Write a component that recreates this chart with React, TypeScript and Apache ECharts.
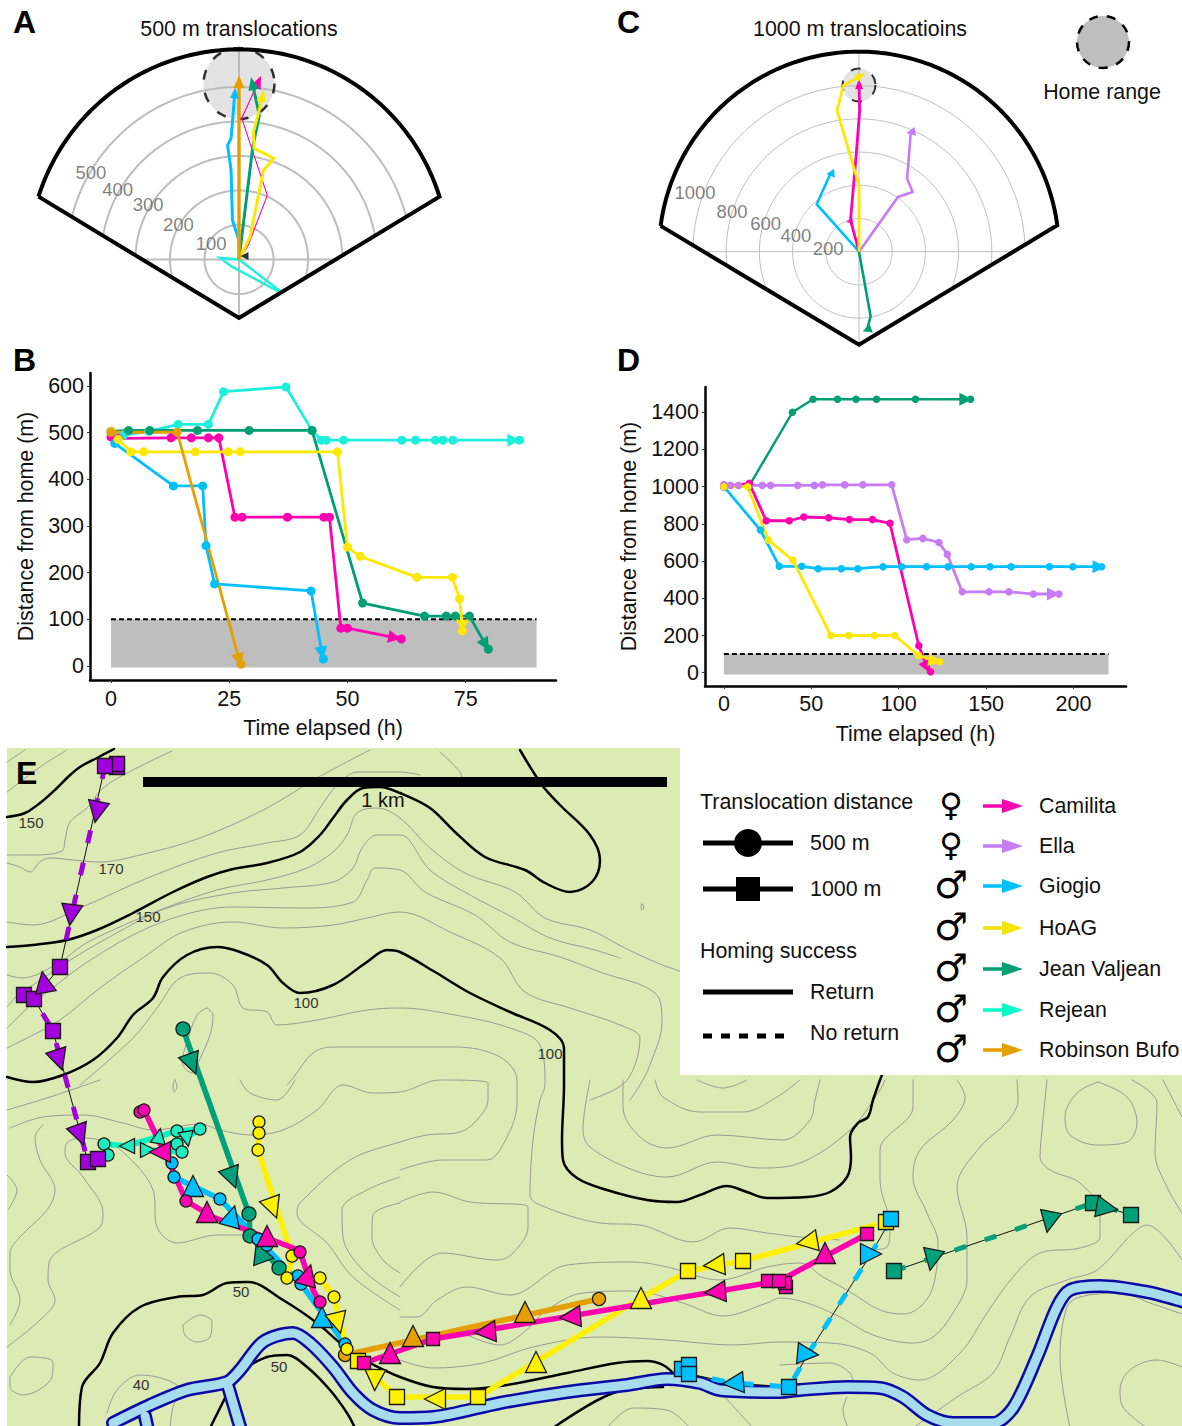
import React, { useEffect, useRef } from "react";
import * as echarts from "echarts";

const FONT = "Liberation Sans";
const C = { cam: "#FF00B0", ella: "#C77CF5", gio: "#00BFFF", hoag: "#FFE800", jean: "#009E73", rej: "#1CF0DC", rob: "#E69F00" };
const M = { ella: "#A100DC", jean: "#00A07A", rej: "#1DEBC0", rejLine: "#00F5C4" };

type P = number[];

// ---------- Panel A tracks: metres east, metres north of the release point
const aGiogio: P[] = [[0, 0], [0, 56], [-19, 114], [-23, 259], [-33, 331], [-23, 351], [-12, 483]];
const aRobinson: P[] = [[0, 0], [0, 515]];
const aJean: P[] = [[0, 0], [40, 327], [59, 418], [39, 510]];
const aCamilita: P[] = [[0, 0], [27, 42], [82, 186], [8, 409], [56, 515]];
const aHoag: P[] = [[0, 0], [32, 66], [71, 259], [101, 293], [44, 322], [42, 370], [56, 423], [68, 476]];
const aRejean: P[] = [[0, 0], [-55, 5], [-22, -20], [113, -92], [118, -90], [0, 0]];
const aSideMark: P[] = [[16, 10, 90]];
const aRingValues = [100, 200, 300, 400, 500];
const aRingLabels = [[93, 150, "100"], [203, 150, "200"], [307, 149, "300"], [406, 150, "400"], [498, 149.5, "500"]];

// ---------- Panel C tracks
const cCamilita: P[] = [[0, 0], [-51, 190], [-18, 570], [4, 850], [0, 1010]];
const cHoag: P[] = [[0, 0], [0, 400], [-132, 850], [-95, 1000], [11, 1060]];
const cElla: P[] = [[0, 0], [235, 330], [323, 360], [290, 440], [312, 720]];
const cGiogio: P[] = [[0, 0], [-255, 286], [-172, 470]];
const cJean: P[] = [[0, 0], [70, -390], [48, -470]];
const cSideMark: P[] = [[-58, 182, 100]];
const cRingValues = [200, 400, 600, 800, 1000];
const cRingLabels = [[187, 174.5, "200"], [392, 165.8, "400"], [587, 163.2, "600"], [802, 162.5, "800"], [1050, 160.2, "1000"]];

// ---------- Panel B: hours, metres
const bRejean: P[] = [[0, 503], [2.7, 495], [8, 503], [14.2, 518], [20.6, 518], [23.8, 588], [37, 598], [42.5, 505], [44.5, 484], [45.5, 484], [49.2, 484], [61.5, 484], [64.4, 484], [68.6, 484], [70.2, 484], [72.3, 484], [86.4, 484]];
const bCamilita: P[] = [[0, 491], [1.5, 488], [12.7, 489], [17, 489], [20.6, 489], [22.8, 489], [26.2, 319], [27.7, 319], [37.3, 319], [45, 319], [46.2, 319], [48.6, 81], [50, 81], [61.4, 58]];
const bGiogio: P[] = [[0, 502], [0.8, 477], [13.2, 386], [19.4, 386], [20.1, 258], [21.9, 176], [42.3, 161], [44.9, 15]];
const bJean: P[] = [[0, 503], [3.7, 505], [8.2, 505], [18.3, 505], [29.2, 505], [42.5, 505], [53.2, 135], [66.3, 107], [70.9, 107], [72.8, 107], [75.8, 107], [79.8, 36]];
const bRobinson: P[] = [[0, 501], [14, 501], [27.5, 4]];
const bHoag: P[] = [[0, 503], [1.5, 486], [4.2, 459], [6.9, 459], [17.8, 459], [24.8, 459], [27.3, 459], [47.9, 459], [50, 255], [52.7, 235], [64.7, 190], [72.2, 190], [73.7, 144], [74.3, 75]];
const bXTicks = [0, 25, 50, 75];
const bYTicks = [0, 100, 200, 300, 400, 500, 600];

// ---------- Panel D
const dJean: P[] = [[0, 1000], [14.2, 1000], [39.2, 1400], [51, 1470], [65, 1470], [75.6, 1470], [87.3, 1470], [109.6, 1470], [141.1, 1470]];
const dElla: P[] = [[0, 1012], [3.8, 1007], [8.4, 1007], [14.6, 1007], [22, 1007], [26.7, 1007], [42.2, 1007], [51.8, 1007], [56.4, 1010], [69.1, 1010], [79.5, 1010], [96, 1010], [104.6, 715], [113.8, 722], [123, 700], [127.8, 636], [136.3, 435], [151.6, 435], [163, 435], [177, 423], [191.6, 423]];
const dGiogio: P[] = [[0, 1000], [20.9, 767], [31.7, 572], [44.5, 572], [53.9, 559], [67.2, 559], [76.6, 559], [91, 570], [101.7, 570], [115.9, 570], [128.2, 570], [141.5, 570], [152.2, 570], [164.3, 570], [186.2, 570], [199.6, 570], [216, 570]];
const dCamilita: P[] = [[0, 1000], [14.6, 1018], [24.2, 817], [37.4, 817], [45.7, 837], [59.9, 833], [71.8, 823], [85, 823], [95, 803], [111.5, 145], [118.2, 5]];
const dHoag: P[] = [[0, 1000], [13.6, 1000], [25.5, 713], [39.5, 604], [61.2, 200], [71.4, 200], [86, 200], [97.7, 200], [111.3, 93], [123.4, 59]];
const dXTicks = [0, 50, 100, 150, 200];
const dYTicks = [0, 200, 400, 600, 800, 1000, 1200, 1400];

// ---------- Panel E map (map axes run in the picture's own units)
const thickContours: P[][] = [
  [[7, 817], [25, 813], [40, 803], [57, 788], [68, 777], [80, 767], [97, 758], [114, 749]],
  [[7, 947], [33, 945], [67, 940], [97, 930], [133, 913], [173, 892], [207, 877], [233, 869], [267, 863], [300, 852], [320, 835], [333, 818], [347, 800], [363, 788], [380, 787], [400, 793], [430, 808], [455, 832], [485, 857], [525, 870], [545, 883], [570, 892], [592, 882], [600, 860], [590, 835], [560, 805], [542, 785], [520, 750]],
  [[7, 1077], [33, 1082], [63, 1075], [93, 1060], [117, 1038], [133, 1015], [153, 998], [163, 977], [187, 955], [217, 947], [240, 952], [267, 965], [283, 983], [300, 993], [333, 985], [367, 962], [387, 950], [400, 952], [435, 972], [470, 993], [510, 1012], [550, 1030], [564, 1048], [564, 1085], [562, 1140], [563, 1160], [577, 1178], [607, 1190], [647, 1200], [677, 1202], [700, 1195], [727, 1186], [747, 1192], [767, 1198], [807, 1197], [830, 1192], [847, 1177], [851, 1157], [850, 1137], [858, 1123], [868, 1117], [873, 1100], [880, 1080], [884, 1070]],
  [[79, 1428], [82, 1387], [100, 1363], [113, 1333], [140, 1307], [177, 1297], [203, 1295], [227, 1283], [248, 1282], [283, 1300], [317, 1323], [340, 1343], [353, 1353], [370, 1363], [400, 1377], [433, 1387], [467, 1389], [507, 1385], [567, 1373], [617, 1363], [647, 1361], [663, 1365], [675, 1375]],
  [[247, 1367], [267, 1357], [287, 1355], [307, 1367], [330, 1390], [347, 1413], [355, 1428]],
  [[210, 1428], [225, 1398]],
  [[553, 1428], [613, 1393], [663, 1387]],
];
const thinContours: P[][] = [
  [[7, 762], [25, 750]],
  [[7, 792], [43, 765], [67, 750]],
  [[7, 855], [33, 855], [62, 851], [65, 840], [70, 822], [87, 808], [103, 788], [133, 770], [172, 751]],
  [[7, 863], [20, 867], [30, 872], [40, 862], [50, 858], [73, 860], [100, 862], [140, 855], [200, 838], [267, 808], [317, 778], [370, 750]],
  [[7, 922], [33, 925], [80, 908], [150, 877], [217, 853], [267, 843], [300, 835], [320, 808], [337, 785], [358, 772], [400, 772], [420, 775]],
  [[440, 752], [460, 772], [462, 780]],
  [[7, 975], [22, 978], [60, 962], [83, 945], [113, 930], [160, 910], [217, 890], [267, 880], [307, 868], [333, 852], [347, 835], [357, 813], [377, 808], [400, 818], [430, 848], [465, 873], [515, 892], [545, 918], [590, 930], [625, 948], [655, 962], [682, 972]],
  [[7, 1007], [20, 993], [33, 985], [67, 962], [113, 935], [167, 908], [233, 893], [283, 888], [333, 882], [353, 868], [362, 848], [377, 835], [400, 835], [430, 870], [470, 895], [512, 917], [550, 938], [595, 950], [620, 958]],
  [[7, 1028], [33, 1003], [50, 990], [83, 965], [133, 935], [183, 915], [233, 907], [300, 908], [353, 902], [367, 880], [375, 868], [400, 870], [425, 892], [475, 915], [510, 942], [560, 957], [600, 972], [655, 993], [662, 1022], [650, 1065], [640, 1085], [630, 1100]],
  [[7, 1048], [33, 1035], [60, 1020], [100, 988], [147, 955], [183, 932], [233, 922], [283, 928], [333, 925], [367, 918], [400, 912], [450, 932], [500, 958], [525, 992], [570, 1008], [620, 1025], [640, 1038], [635, 1065], [622, 1085], [590, 1100]],
  [[207, 1008], [213, 1015], [210, 1035], [197, 1065], [192, 1073], [182, 1062], [187, 1042], [197, 1015], [207, 1008]],
  [[80, 1085], [133, 1038], [157, 1008], [180, 978], [210, 973], [233, 985], [243, 1008], [267, 1012], [277, 1025], [317, 1020], [367, 1010], [400, 1008], [455, 1015], [510, 1028], [540, 1045], [545, 1085], [540, 1100], [533, 1140], [530, 1195], [540, 1205], [600, 1223], [640, 1225], [693, 1242], [730, 1228], [767, 1233], [800, 1237], [840, 1240]],
  [[287, 1085], [293, 1078], [313, 1053], [333, 1047], [400, 1047], [455, 1047], [500, 1057], [517, 1080], [517, 1103], [507, 1137], [487, 1160], [443, 1160], [400, 1170]],
  [[7, 1110], [50, 1097], [100, 1080]],
  [[10, 1128], [43, 1117], [83, 1115], [123, 1123], [153, 1130], [200, 1124], [220, 1130], [250, 1135], [283, 1130], [317, 1110], [343, 1085], [373, 1093], [400, 1092], [440, 1080], [488, 1083], [488, 1100], [477, 1120], [460, 1132], [427, 1135], [400, 1142], [350, 1160], [300, 1203], [297, 1213], [327, 1243], [353, 1277], [400, 1310]],
  [[43, 1125], [35, 1137], [40, 1160], [55, 1190], [47, 1210], [20, 1237], [10, 1253], [10, 1270], [20, 1300], [10, 1325]],
  [[243, 1235], [217, 1235], [177, 1243], [157, 1227], [153, 1190], [123, 1152], [100, 1140], [80, 1138], [67, 1143], [65, 1153], [83, 1177], [103, 1213], [100, 1227], [50, 1260], [48, 1280], [55, 1300], [40, 1320], [7, 1347]],
  [[7, 1175], [17, 1190], [8, 1210]],
  [[10, 1377], [30, 1357], [53, 1362], [52, 1377], [23, 1395], [10, 1387], [10, 1377]],
  [[183, 1325], [200, 1315], [212, 1322], [210, 1337], [197, 1342], [185, 1335], [183, 1325]],
  [[107, 1413], [117, 1390], [140, 1375], [167, 1380], [180, 1390], [173, 1407], [170, 1428]],
  [[175, 1080], [177, 1087], [174, 1092], [173, 1085], [175, 1080]],
  [[642, 904], [644, 907], [642, 910], [641, 907], [642, 904]],
  [[240, 1080], [250, 1093], [277, 1100], [295, 1080]],
  [[400, 1177], [367, 1190], [342, 1210], [343, 1237], [363, 1270], [400, 1297]],
  [[400, 1203], [373, 1215], [372, 1237], [383, 1260], [400, 1273]],
  [[400, 1202], [433, 1192], [470, 1202], [528, 1207], [528, 1227], [513, 1253], [497, 1260], [442, 1253], [400, 1287]],
  [[400, 1317], [417, 1317], [437, 1300], [467, 1287], [510, 1295], [567, 1265], [633, 1262], [667, 1267], [720, 1280], [767, 1267], [800, 1263], [823, 1277], [847, 1290], [880, 1310], [903, 1314], [920, 1307], [933, 1287], [938, 1243], [927, 1213], [913, 1177], [920, 1150], [953, 1120], [965, 1097], [957, 1080]],
  [[467, 1335], [500, 1345], [523, 1333], [547, 1310], [583, 1293], [633, 1291], [683, 1303], [723, 1316], [767, 1303], [780, 1298], [807, 1303], [840, 1317], [873, 1335], [913, 1343], [933, 1337], [953, 1313], [967, 1280], [967, 1237], [957, 1187], [980, 1147], [1007, 1122], [1018, 1100], [1017, 1080]],
  [[400, 1360], [433, 1368], [483, 1363], [533, 1347], [600, 1337], [667, 1340], [733, 1345], [780, 1342], [830, 1343], [870, 1353], [893, 1373], [920, 1380], [960, 1353], [987, 1313], [1013, 1277], [1040, 1253], [1080, 1248], [1100, 1237], [1100, 1213], [1080, 1183], [1050, 1170], [1040, 1157], [1042, 1130], [1047, 1080]],
  [[590, 1080], [583, 1130], [590, 1147], [633, 1170], [667, 1177], [717, 1162], [760, 1168], [800, 1163], [850, 1130], [880, 1090], [885, 1080]],
  [[623, 1080], [623, 1107], [640, 1137], [667, 1148], [717, 1135], [783, 1140], [810, 1120], [815, 1100], [820, 1080]],
  [[655, 1080], [663, 1097], [700, 1112], [743, 1112], [777, 1097], [800, 1080]],
  [[697, 1080], [723, 1088], [747, 1080]],
  [[607, 1428], [633, 1408], [667, 1410], [690, 1428]],
  [[723, 1395], [753, 1428]],
  [[913, 1080], [913, 1107], [880, 1150], [880, 1180], [890, 1227], [887, 1247], [870, 1250]],
  [[1098, 1082], [1127, 1097], [1137, 1123], [1127, 1142], [1097, 1145], [1070, 1135], [1065, 1117], [1077, 1093], [1098, 1082]],
  [[1132, 1080], [1157, 1103], [1155, 1153], [1167, 1187], [1182, 1213]],
  [[1163, 1080], [1182, 1117]],
  [[1182, 1260], [1147, 1225], [1133, 1233], [1097, 1270], [1067, 1280], [1030, 1297], [1010, 1337], [993, 1373], [957, 1397], [913, 1428]],
  [[1182, 1314], [1150, 1303], [1120, 1293], [1080, 1297], [1067, 1307], [1060, 1357], [1070, 1428]],
  [[1182, 1367], [1157, 1360], [1130, 1370], [1120, 1390], [1123, 1407], [1147, 1428]],
  [[780, 1365], [830, 1363], [850, 1373], [853, 1383]],
  [[847, 1397], [843, 1410], [848, 1428]],
];
const riverPaths: P[][] = [
  [[113, 1423], [150, 1405], [187, 1390], [227, 1382], [240, 1370], [263, 1342], [293, 1333], [310, 1343], [333, 1367], [353, 1393], [373, 1410], [400, 1418], [433, 1417], [500, 1403], [567, 1392], [627, 1385], [667, 1379], [700, 1383], [720, 1390], [780, 1392], [800, 1390], [847, 1387], [880, 1388], [903, 1397], [927, 1415], [953, 1423], [993, 1423], [1013, 1408], [1037, 1357], [1057, 1307], [1070, 1290], [1100, 1286], [1147, 1292], [1185, 1302]],
  [[228, 1386], [241, 1430]],
  [[145, 1416], [148, 1430]],
];
const contourLabels = [[31, 822, "150"], [111, 868, "170"], [148, 916, "150"], [306, 1002, "100"], [550, 1053, "100"], [241, 1291, "50"], [279, 1366, "50"], [141, 1384, "40"]];
const scaleBar: P[] = [[143, 782], [667, 782]];

const camRoute500: P[] = [[144, 1110], [167, 1158], [186, 1201], [213, 1217], [293, 1248], [300, 1252], [313, 1290], [320, 1302]];
const camRoute1000: P[] = [[867, 1234], [779, 1281], [433, 1339], [364, 1363]];
const camCircles: P[] = [[140, 1112], [144, 1110], [186, 1201], [300, 1252], [320, 1302]];
const camSquares: P[] = [[786, 1287], [785, 1283], [768, 1281], [779, 1281], [433, 1339], [364, 1363], [867, 1234]];
const camTriangles: P[] = [[160, 1152, 90], [207, 1212, 0], [267, 1236, 0], [308, 1275, -15], [390, 1353, 0], [485, 1332, 95], [570, 1317, 95], [715, 1292, 95], [825, 1253, 0]];

const ellaRoute: P[] = [[105, 766], [60, 967], [34, 999], [53, 1031], [88, 1162]];
const ellaSquares: P[] = [[117, 767], [117, 764], [105, 766], [60, 967], [24, 995], [34, 999], [53, 1031], [88, 1162], [98, 1159]];
const ellaTriangles: P[] = [[97, 812, 169], [71, 915, 173], [44, 982, 10], [59, 1060, -162], [80, 1135, -160]];

const gioRoute500: P[] = [[172, 1163], [174, 1177], [220, 1199], [258, 1239], [301, 1284], [345, 1344]];
const gioRoute1000: P[] = [[891, 1219], [871, 1254], [808, 1354], [789, 1387], [733, 1383], [689, 1374]];
const gioCircles: P[] = [[172, 1163], [174, 1177], [220, 1199], [258, 1239], [267, 1245], [298, 1276], [301, 1284], [345, 1344]];
const gioSquares: P[] = [[682, 1369], [689, 1365], [689, 1374], [789, 1387], [891, 1219]];
const gioTriangles: P[] = [[193, 1186, 0], [232, 1216, -15], [322, 1317, 0], [733, 1383, 95], [808, 1354, -95], [871, 1254, -90]];

const hoagRoute500: P[] = [[258, 1122], [258, 1150], [292, 1256], [287, 1278]];
const hoagRoute500b: P[] = [[320, 1278], [334, 1297], [347, 1349]];
const hoagRoute1000: P[] = [[886, 1222], [743, 1261], [688, 1271], [641, 1298], [478, 1397], [397, 1397], [358, 1361]];
const hoagCircles: P[] = [[259, 1122], [259, 1133], [258, 1150], [292, 1256], [287, 1278], [320, 1278], [334, 1297], [347, 1349]];
const hoagSquares: P[] = [[358, 1361], [397, 1397], [478, 1397], [688, 1271], [743, 1261], [886, 1222]];
const hoagTriangles: P[] = [[273, 1208, -160], [338, 1323, -166], [375, 1380, 178], [435, 1399, 90], [536, 1362, 0], [641, 1298, 0], [714, 1265, 95], [807, 1242, 100]];

const jeanRoute500: P[] = [[183, 1029], [249, 1214], [250, 1236], [279, 1268]];
const jeanRoute1000: P[] = [[894, 1271], [1093, 1203], [1131, 1215]];
const jeanCircles: P[] = [[183, 1029], [249, 1214], [250, 1236], [279, 1268]];
const jeanSquares: P[] = [[894, 1271], [1093, 1203], [1131, 1215]];
const jeanTriangles: P[] = [[192, 1064, -160], [232, 1178, -160], [260, 1252, 20], [932, 1260, 169], [1049, 1222, 169], [1107, 1208, -100]];

const rejRoute: P[] = [[108, 1155], [104, 1144], [127, 1146], [177, 1131], [200, 1129], [177, 1144], [182, 1152], [148, 1150]];
const rejCircles: P[] = [[104, 1144], [108, 1155], [177, 1131], [200, 1129], [177, 1144], [182, 1152]];
const rejTriangles: P[] = [[127, 1146, 90], [159, 1136, -10], [148, 1150, -90], [187, 1139, 190]];

const robRoute: P[] = [[599, 1299], [345, 1355]];
const robCircles: P[] = [[599, 1299], [345, 1355]];
const robTriangles: P[] = [[525, 1312, 0], [413, 1336, 0]];

const legendNames = ["Camilita", "Ella", "Giogio", "HoAG", "Jean Valjean", "Rejean", "Robinson Bufo"];
const legendColors = ["#FF00B0", "#C77CF5", "#00BFFF", "#F5E400", "#009E73", "#00FFC8", "#E69F00"];
const legendSex = ["♀", "♀", "♂", "♂", "♂", "♂", "♂"];
const legendRows = [806, 846, 886, 928, 969, 1010, 1050];

// ---------- helpers
const toPolar = (e: number, n: number) => {
  let a = (Math.atan2(n, e) * 180) / Math.PI;
  if (a < 0) a += 360;
  return [Math.hypot(e, n), a];
};

const polarTrack = (polarIndex: number, pts: P[], color: string, width: number, head: number[], headRot?: number, z = 5) => ({
  type: "line", coordinateSystem: "polar", polarIndex, z, clip: false, silent: true,
  showSymbol: true,
  lineStyle: { color, width, join: "miter" }, itemStyle: { color },
  data: pts.map((p, i) => {
    const last = i === pts.length - 1;
    const prev = pts[i - 1] || p;
    const rot = headRot !== undefined ? headRot : (Math.atan2(-(p[0] - prev[0]), p[1] - prev[1]) * 180) / Math.PI;
    return {
      value: toPolar(p[0], p[1]),
      symbol: last ? "triangle" : "none",
      symbolSize: head,
      symbolRotate: last ? rot : 0,
    };
  }),
});

const sideMark = (polarIndex: number, pts: P[], color: string, size: number) => ({
  type: "scatter", coordinateSystem: "polar", polarIndex, z: 5, silent: true, symbol: "triangle", symbolSize: size,
  itemStyle: { color },
  data: pts.map((p) => ({ value: toPolar(p[0], p[1]), symbolRotate: p[2] })),
});

// Wedge frame, rings and spokes for a polar panel.
const wedge = (polarIndex: number, pxPerM: number, maxM: number, tip: number[], bottomPx: number, rings: number[], ringW: number) => {
  const out: any[] = [];
  const inside = (x: number, y: number) => (y + bottomPx) * tip[0] - Math.abs(x) * (tip[1] + bottomPx) >= 0;
  rings.forEach((r) => {
    const rho = r * pxPerM;
    let phi = 0;
    while (phi < 180) {
      const t = ((90 - phi - 0.5) * Math.PI) / 180;
      if (!inside(rho * Math.cos(t), rho * Math.sin(t))) break;
      phi += 0.5;
    }
    const ang: number[] = [];
    for (let a = 90 + phi; a >= 90 - phi - 1e-6; a -= 1) ang.push(a);
    out.push({
      type: "line", coordinateSystem: "polar", polarIndex, z: 1, silent: true, showSymbol: false,
      lineStyle: { color: "#bdbdbd", width: ringW },
      data: ang.map((a) => [r, (a + 360) % 360]),
    });
  });
  const hM = (tip[0] * bottomPx) / (tip[1] + bottomPx) / pxPerM;
  out.push({
    type: "line", coordinateSystem: "polar", polarIndex, z: 1, silent: true, showSymbol: false,
    lineStyle: { color: "#bdbdbd", width: ringW }, data: [[hM, 180], [hM, 0]],
  });
  const tipAngle = (Math.atan2(tip[1], tip[0]) * 180) / Math.PI;
  out.push({
    type: "line", coordinateSystem: "polar", polarIndex, z: 1, silent: true, showSymbol: false,
    lineStyle: { color: "#bdbdbd", width: ringW }, data: [[maxM, 90], [bottomPx / pxPerM, 270]],
  });
  const frame: P[] = [];
  for (let a = 180 - tipAngle; a >= tipAngle - 1e-6; a -= 1) frame.push([maxM, a]);
  frame.push([maxM, tipAngle]);
  frame.push([bottomPx / pxPerM, 270]);
  frame.push([maxM, 180 - tipAngle]);
  out.push({
    type: "line", coordinateSystem: "polar", polarIndex, z: 6, clip: false, silent: true, showSymbol: false,
    lineStyle: { color: "#000", width: 4, join: "miter" }, data: frame,
  });
  return out;
};

const ringText = (polarIndex: number, labels: any[]) => ({
  type: "scatter", coordinateSystem: "polar", polarIndex, z: 7, silent: true, symbolSize: 1,
  itemStyle: { color: "transparent" },
  label: { show: true, position: "inside", formatter: (p: any) => p.name, color: "#5f5f5f", fontSize: 18.5, fontFamily: FONT },
  data: labels.map((l) => ({ name: l[2], value: [l[0], l[1]] })),
});

const homeSpot = (polarIndex: number, r: number, size: number, bw: number) => ({
  type: "scatter", coordinateSystem: "polar", polarIndex, z: 2, silent: true, symbolSize: size,
  itemStyle: { color: "rgba(185,185,185,0.5)", borderColor: "#000", borderWidth: bw, borderType: [10, 13] },
  data: [[r, 90]],
});

const timeTrack = (axis: number, pts: P[], color: string, arrowAt: P, rot: number, size = 9, w = 2.8) => ({
  type: "line", xAxisIndex: axis, yAxisIndex: axis, z: 4, silent: true, showSymbol: true, clip: false,
  lineStyle: { color, width: w }, itemStyle: { color },
  data: [
    ...pts.slice(0, -1).map((p) => ({ value: p, symbol: "circle", symbolSize: size })),
    { value: arrowAt, symbol: "triangle", symbolSize: [13, 13], symbolRotate: rot },
    { value: pts[pts.length - 1], symbol: "circle", symbolSize: size },
  ],
});

const homeBand = (axis: number, xEnd: number, low: number) => ({
  type: "line", xAxisIndex: axis, yAxisIndex: axis, z: 2, silent: true, showSymbol: false,
  lineStyle: { color: "#000", width: 2, type: [5, 3] },
  data: [[0, 100], [xEnd, 100]],
  markArea: { silent: true, itemStyle: { color: "#bebebe" }, data: [[{ coord: [0, low] }, { coord: [xEnd, 100] }]] },
});

const valueAxis = (grid: number, min: number, max: number, ticks: number[], name: string, gap: number, margin: number) => ({
  type: "value", gridIndex: grid, min, max, splitLine: { show: false },
  name, nameLocation: "middle", nameGap: gap,
  nameTextStyle: { fontSize: 21.4, color: "#111", fontFamily: FONT },
  axisLine: { show: true, onZero: false, lineStyle: { color: "#000", width: 2.5 } },
  axisTick: { show: true, length: 3, customValues: ticks, lineStyle: { color: "#333", width: 1 } },
  axisLabel: { show: true, customValues: ticks, fontSize: 21.5, color: "#111", fontFamily: FONT, margin, formatter: (v: number) => String(v) },
});

const mapLine = (pts: P[], color: string, width: number, z: number, dash?: number[], smooth = 0, cap?: string) => ({
  type: "line", xAxisIndex: 2, yAxisIndex: 2, z, silent: true, showSymbol: false, smooth,
  lineStyle: { color, width, type: dash || "solid", cap: cap || (dash ? "butt" : "round"), join: "round" },
  data: pts,
});

const marks = (pts: P[], symbol: string, size: number, color: string, z: number) => ({
  type: "scatter", xAxisIndex: 2, yAxisIndex: 2, z, silent: true, symbol, symbolSize: size,
  symbolRotate: (v: number[]) => v[2] || 0,
  itemStyle: { color, borderColor: "#1a1a1a", borderWidth: 1.3, opacity: 1 },
  data: pts,
});

const txt = (text: string, x: number, y: number, fontSize = 21.4, extra: any = {}) => ({
  type: "text", x, y, z: 22, silent: true,
  style: { text, fontSize, fontFamily: FONT, fill: "#111", textAlign: "left", textVerticalAlign: "middle", ...extra },
});
const seg = (x1: number, y1: number, x2: number, y2: number, stroke: string, lineWidth: number, lineDash?: number[]) => ({
  type: "line", z: 22, silent: true, shape: { x1, y1, x2, y2 }, style: { stroke, lineWidth, lineDash },
});

export default function App() {
  const ref = useRef<HTMLDivElement>(null);
  useEffect(() => {
    document.body.style.margin = "0";
    const chart = echarts.init(ref.current!, undefined, { renderer: "svg" });

    const legendGraphics: any[] = [
      { type: "rect", z: 21, silent: true, shape: { x: 680, y: 748, width: 502, height: 327 }, style: { fill: "#fff" } },
      txt("Translocation distance", 700, 802),
      seg(703, 843, 793, 843, "#000", 5),
      { type: "circle", z: 23, silent: true, shape: { cx: 748, cy: 843, r: 14 }, style: { fill: "#000" } },
      txt("500 m", 810, 843),
      seg(703, 889, 793, 889, "#000", 5),
      { type: "rect", z: 23, silent: true, shape: { x: 736, y: 877, width: 24, height: 24 }, style: { fill: "#000" } },
      txt("1000 m", 810, 889),
      txt("Homing success", 700, 951),
      seg(703, 992, 793, 992, "#000", 5),
      txt("Return", 810, 992),
      seg(703, 1036, 793, 1036, "#000", 5, [9, 9]),
      txt("No return", 810, 1033),
    ];
    legendNames.forEach((n, i) => {
      const y = legendRows[i];
      legendGraphics.push(
        txt(legendSex[i], 951, y - 1, legendSex[i] === "♀" ? 32 : 38, { fontFamily: "DejaVu Sans", textAlign: "center", fill: "#000" }),
        seg(983, y, 1004, y, legendColors[i], 3.5),
        { type: "polygon", z: 22, silent: true, shape: { points: [[1002, y - 7], [1023, y], [1002, y + 7]] }, style: { fill: legendColors[i] } },
        txt(n, 1039, y),
      );
    });

    const titles: any[] = [
      txt("A", 13, 22, 32, { fontWeight: "bold", fill: "#000" }),
      txt("B", 13, 360, 32, { fontWeight: "bold", fill: "#000" }),
      txt("C", 617, 22, 32, { fontWeight: "bold", fill: "#000" }),
      txt("D", 617, 360, 32, { fontWeight: "bold", fill: "#000" }),
      txt("E", 16, 773, 32, { fontWeight: "bold", fill: "#000" }),
      txt("500 m translocations", 239, 29, 21.4, { textAlign: "center" }),
      txt("1000 m translocatioins", 860, 29, 21.4, { textAlign: "center" }),
      txt("Home range", 1102, 92, 21.4, { textAlign: "center" }),
      { type: "circle", z: 22, silent: true, shape: { cx: 1103, cy: 42, r: 26 }, style: { fill: "#bebebe", stroke: "#000", lineWidth: 2.5, lineDash: [9, 9] } },
      txt("1 km", 383, 800, 20, { textAlign: "center" }),
    ];
    contourLabels.forEach((l: any) => {
      titles.push(txt(l[2], l[0], l[1], 15, { textAlign: "center", fill: "#333" }));
    });

    const series: any[] = [
      // Panel A
      ...wedge(0, 0.345, 609, [201, 63], 58.5, aRingValues, 2),
      homeSpot(0, 510, 71, 2.5),
      polarTrack(0, aRejean, C.rej, 2.4, [1, 1]),
      polarTrack(0, aGiogio, C.gio, 3, [9, 11]),
      polarTrack(0, aCamilita, C.cam, 1.1, [11, 13]),
      polarTrack(0, aJean, C.jean, 3, [11, 13]),
      polarTrack(0, aHoag, C.hoag, 3, [9, 13]),
      polarTrack(0, aRobinson, C.rob, 3.4, [11, 13]),
      sideMark(0, aSideMark, "#000", 8),
      ringText(0, aRingLabels),
      // Panel C
      ...wedge(1, 0.166, 1205, [197.5, 25.7], 93, cRingValues, 1),
      homeSpot(1, 1004, 33, 2),
      polarTrack(1, cGiogio, C.gio, 2.6, [9, 8], 95),
      polarTrack(1, cJean, C.jean, 2.6, [9, 9], 110),
      polarTrack(1, cElla, C.ella, 2.6, [9, 9], 100),
      polarTrack(1, cCamilita, C.cam, 2.8, [8, 10]),
      polarTrack(1, cHoag, C.hoag, 2.8, [8, 10]),
      sideMark(1, cSideMark, C.cam, 7),
      ringText(1, cRingLabels),
      // Panel B
      homeBand(0, 90, -3),
      timeTrack(0, bRejean, C.rej, [85.2, 484], -90),
      timeTrack(0, bJean, C.jean, [79.2, 46], -150),
      timeTrack(0, bCamilita, C.cam, [60, 61], -100),
      timeTrack(0, bGiogio, C.gio, [44.6, 28], -170),
      timeTrack(0, bHoag, C.hoag, [74.3, 86], 180),
      timeTrack(0, bRobinson, C.rob, [27.1, 13], -165),
      // Panel D
      homeBand(1, 220, -10),
      timeTrack(1, dJean, C.jean, [138.4, 1470], -90, 7.5, 2.4),
      timeTrack(1, dElla, C.ella, [188.5, 423], -90, 7.5),
      timeTrack(1, dGiogio, C.gio, [214.6, 570], -90, 7.5),
      timeTrack(1, dCamilita, C.cam, [116.2, 30], -155, 7.5),
      timeTrack(1, dHoag, C.hoag, [120.6, 64], -100, 7.5),
      // Panel E: base map
      ...thinContours.map((c) => mapLine(c, "#9a9a9a", 1, 1, undefined, 0.35)),
      ...thickContours.map((c) => mapLine(c, "#000", 2.5, 2, undefined, 0.35)),
      ...riverPaths.map((c) => mapLine(c, "#0A0AA8", 14, 3, undefined, 0.3)),
      ...riverPaths.map((c) => mapLine(c, "#A6DCEC", 9, 3, undefined, 0.3)),
      mapLine(scaleBar, "#000", 10, 3, undefined, 0, "butt"),
      // Panel E: tracks
      mapLine(robRoute, C.rob, 5.5, 4),
      mapLine(hoagRoute1000, "#FFF000", 5.5, 4),
      mapLine(camRoute1000, C.cam, 5.5, 4),
      mapLine(gioRoute500, C.gio, 5.5, 4),
      mapLine(jeanRoute500, M.jean, 5.5, 4),
      mapLine(hoagRoute500, "#FFF000", 5.5, 4),
      mapLine(hoagRoute500b, "#FFF000", 5.5, 4),
      mapLine(rejRoute, M.rejLine, 5.5, 4),
      mapLine(camRoute500, C.cam, 5.5, 4),
      mapLine(ellaRoute, "#111", 1, 4),
      mapLine(ellaRoute, M.ella, 5, 4, [13, 20]),
      mapLine(gioRoute1000, "#111", 1, 4),
      mapLine(gioRoute1000, C.gio, 5, 4, [13, 16]),
      mapLine(jeanRoute1000, "#111", 1, 4),
      mapLine(jeanRoute1000, M.jean, 5, 4, [12, 20]),
      marks(robCircles, "circle", 13, C.rob, 5),
      marks(robTriangles, "triangle", 21, C.rob, 5),
      marks(rejCircles, "circle", 12, M.rej, 5),
      marks(rejTriangles, "triangle", 15, M.rej, 5),
      marks(jeanCircles, "circle", 14, M.jean, 5),
      marks(jeanSquares, "rect", 15, M.jean, 5),
      marks(jeanTriangles, "triangle", 21, M.jean, 5),
      marks(gioCircles, "circle", 12, C.gio, 5),
      marks(gioTriangles, "triangle", 21, C.gio, 5),
      marks(hoagCircles, "circle", 12, "#FFF000", 5),
      marks(hoagSquares, "rect", 15, "#FFF000", 5),
      marks(gioSquares, "rect", 15, C.gio, 5),
      marks(hoagTriangles, "triangle", 21, "#FFF000", 5),
      marks(camCircles, "circle", 12, C.cam, 6),
      marks(camSquares, "rect", 13, C.cam, 6),
      marks(camTriangles, "triangle", 21, C.cam, 6),
      marks(ellaSquares, "rect", 15, M.ella, 6),
      marks(ellaTriangles, "triangle", 21, M.ella, 6),
    ];

    chart.setOption({
      animation: false,
      backgroundColor: "#fff",
      textStyle: { fontFamily: FONT },
      polar: [
        { center: [239, 259.5], radius: [0, 220] },
        { center: [859, 251.7], radius: [0, 210] },
      ],
      angleAxis: [
        { polarIndex: 0, type: "value", min: 0, max: 360, startAngle: 0, clockwise: false, show: false },
        { polarIndex: 1, type: "value", min: 0, max: 360, startAngle: 0, clockwise: false, show: false },
      ],
      radiusAxis: [
        { polarIndex: 0, type: "value", min: 0, max: 220 / 0.345, show: false },
        { polarIndex: 1, type: "value", min: 0, max: 210 / 0.166, show: false },
      ],
      grid: [
        { left: 90, top: 373, width: 466, height: 307, show: false },
        { left: 705, top: 387, width: 421, height: 299, show: false },
        { left: 7, top: 748, width: 1175, height: 678, show: true, backgroundColor: "#DCEAB3", borderWidth: 0 },
      ],
      xAxis: [
        valueAxis(0, -4.44, 94.1, bXTicks, "Time elapsed (h)", 37, 8),
        valueAxis(1, -10.8, 230, dXTicks, "Time elapsed (h)", 37, 7),
        { type: "value", gridIndex: 2, min: 7, max: 1182, show: false },
      ],
      yAxis: [
        valueAxis(0, -30, 628, bYTicks, "Distance from home (m)", 54, 6),
        valueAxis(1, -71.5, 1536, dYTicks, "Distance from home (m)", 66, 6),
        { type: "value", gridIndex: 2, min: 748, max: 1426, inverse: true, show: false },
      ],
      graphic: { elements: [...titles, ...legendGraphics] },
      series,
    });
    return () => chart.dispose();
  }, []);
  return <div ref={ref} style={{ position: "absolute", left: 0, top: 0, width: 1182, height: 1426 }} />;
}
